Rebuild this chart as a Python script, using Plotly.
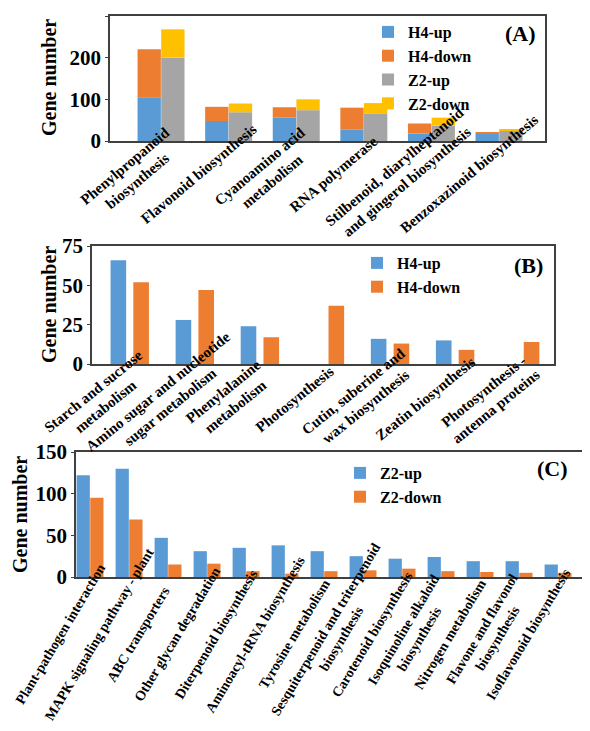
import plotly.graph_objects as go

# (A) stacked pairs
cats_a = ['Phenylpropanoid<br>biosynthesis', 'Flavonoid biosynthesis', 'Cyanoamino acid<br>metabolism',
          'RNA polymerase', 'Stilbenoid, diarylheptanoid<br>and gingerol biosynthesis',
          'Benzoxazinoid biosynthesis']
h4_up_a = [105, 48, 56, 28, 18, 18]
h4_down_a = [115, 34, 25, 52, 24, 3]
z2_up_a = [200, 69, 74, 65, 37, 25]
z2_down_a = [68, 21, 26, 26, 19, 2]

# (B)
cats_b = ['Starch and sucrose<br>metabolism', 'Amino sugar and nucleotide<br>sugar metabolism',
          'Phenylalanine<br>metabolism', 'Photosynthesis', 'Cutin, suberine and<br>wax biosynthesis',
          'Zeatin biosynthesis', 'Photosynthesis -<br>antenna proteins']
h4_up_b = [66, 28, 24, 0, 16, 15, 0]
h4_down_b = [52, 47, 17, 37, 13, 9, 14]

# (C)
cats_c = ['Plant-pathogen interaction', 'MAPK signaling pathway - plant', 'ABC transporters',
          'Other glycan degradation', 'Diterpenoid biosynthesis', 'Aminoacyl-tRNA biosynthesis',
          'Tyrosine metabolism', 'Sesquiterpenoid and triterpenoid<br>biosynthesis',
          'Carotenoid biosynthesis', 'Isoquinoline alkaloid<br>biosynthesis', 'Nitrogen metabolism',
          'Flavone and flavonol<br>biosynthesis', 'Isoflavonoid biosynthesis']
z2_up_c = [122, 130, 47, 31, 35, 38, 31, 25, 22, 24, 19, 19, 15]
z2_down_c = [95, 69, 15, 16, 7, 4, 7, 8, 10, 7, 6, 5, 5]

BLUE, ORANGE, GRAY, GOLD = '#5B9BD5', '#ED7D31', '#A5A5A5', '#FFC000'
OFF = 8  # page body margin
W, H = 590 - OFF, 731 - OFF
FONT = 'Liberation Serif, Times New Roman, serif'

fig = go.Figure()

# panel A
fig.add_bar(x=cats_a, y=h4_up_a, name='H4-up', marker_color=BLUE, offsetgroup='h4',
            xaxis='x', yaxis='y', legend='legend')
fig.add_bar(x=cats_a, y=h4_down_a, base=h4_up_a, name='H4-down', marker_color=ORANGE, offsetgroup='h4',
            xaxis='x', yaxis='y', legend='legend')
fig.add_bar(x=cats_a, y=z2_up_a, name='Z2-up', marker_color=GRAY, offsetgroup='z2',
            xaxis='x', yaxis='y', legend='legend')
fig.add_bar(x=cats_a, y=z2_down_a, base=z2_up_a, name='Z2-down', marker_color=GOLD, offsetgroup='z2',
            xaxis='x', yaxis='y', legend='legend')

# panel B
fig.add_bar(x=cats_b, y=h4_up_b, name='H4-up', marker_color=BLUE, offsetgroup='b1',
            xaxis='x2', yaxis='y2', legend='legend2')
fig.add_bar(x=cats_b, y=h4_down_b, name='H4-down', marker_color=ORANGE, offsetgroup='b2',
            xaxis='x2', yaxis='y2', legend='legend2')

# panel C
fig.add_bar(x=cats_c, y=z2_up_c, name='Z2-up', marker_color=BLUE, offsetgroup='c1',
            xaxis='x3', yaxis='y3', legend='legend3')
fig.add_bar(x=cats_c, y=z2_down_c, name='Z2-down', marker_color=ORANGE, offsetgroup='c2',
            xaxis='x3', yaxis='y3', legend='legend3')


def px_x(v):
    return (v - OFF) / W


def px_y(v):
    return 1 - (v - OFF) / H


box = dict(showline=True, linecolor='#404040', linewidth=1.5, mirror=True, showgrid=False, zeroline=False,
           automargin=False)
ytick = dict(ticks='outside', ticklen=3, tickcolor='#404040',
             tickfont=dict(family=FONT, size=21, color='black', weight='bold'))
xtick = dict(ticks='', showticklabels=False)

legend_style = dict(font=dict(family=FONT, size=16, color='black', weight='bold'), bgcolor='rgba(0,0,0,0)',
                    itemwidth=30, tracegroupgap=0, xanchor='left', yanchor='top')

fig.update_layout(
    template='none',
    width=W, height=H, margin=dict(l=0, r=0, t=0, b=0, autoexpand=False),
    paper_bgcolor='white', plot_bgcolor='white',
    barmode='group', bargap=0.3, bargroupgap=0,
    font=dict(family=FONT, color='black'),
    xaxis=dict(domain=[px_x(110), px_x(545)], anchor='y', range=[-0.755, 5.68], **box, **xtick),
    yaxis=dict(domain=[px_y(141), px_y(16)], anchor='x', range=[0, 300], dtick=100, **box, **ytick),
    xaxis2=dict(domain=[px_x(92), px_x(554)], anchor='y2', range=[-0.58, 6.52], **box, **xtick),
    yaxis2=dict(domain=[px_y(364), px_y(246)], anchor='x2', range=[0, 75], dtick=25, **box, **ytick),
    xaxis3=dict(domain=[px_x(76), px_x(583)], anchor='y3', range=[-0.36, 12.64], **box, **xtick),
    yaxis3=dict(domain=[px_y(577), px_y(452)], anchor='x3', range=[0, 150], dtick=50, **box, **ytick),
    legend=dict(x=px_x(368), y=px_y(15), **legend_style),
    legend2=dict(x=px_x(357), y=px_y(246), **legend_style),
    legend3=dict(x=px_x(340), y=px_y(456), **legend_style),
    showlegend=True,
)

# bar widths per panel
fig.update_traces(width=0.345, selector=dict(xaxis='x'))
fig.update_traces(width=0.24, selector=dict(xaxis='x2'))
fig.update_traces(width=0.34, selector=dict(xaxis='x3'))

# category labels, rotated round their centre like the original
for cats, xr, yr, ang, dx, dy, fs in [(cats_a, 'x', 'y', -40, -30, -33, 15),
                                      (cats_b, 'x2', 'y2', -39, -30, -35, 15),
                                      (cats_c, 'x3', 'y3', -59, -30, -57, 14)]:
    for c in cats:
        fig.add_annotation(text=c, x=c, y=0, xref=xr, yref=yr, showarrow=False, textangle=ang,
                           xanchor='center', yanchor='middle', align='center', xshift=dx, yshift=dy,
                           font=dict(family=FONT, size=fs, color='black', weight='bold'))

labels = [('(A)', 520, 34), ('(B)', 528, 265), ('(C)', 552, 469)]
for txt, xp, yp in labels:
    fig.add_annotation(text=txt, x=px_x(xp), y=px_y(yp), xref='paper', yref='paper', showarrow=False,
                       xanchor='center', yanchor='middle',
                       font=dict(family=FONT, size=22, color='black', weight='bold'))

titles = [(49, 78), (49, 305), (20, 515)]
for xp, yp in titles:
    fig.add_annotation(text='Gene number', x=px_x(xp), y=px_y(yp), xref='paper', yref='paper',
                       showarrow=False, textangle=-90, xanchor='center', yanchor='middle',
                       font=dict(family=FONT, size=20, color='black', weight='bold'))

fig.write_html('out.html')
